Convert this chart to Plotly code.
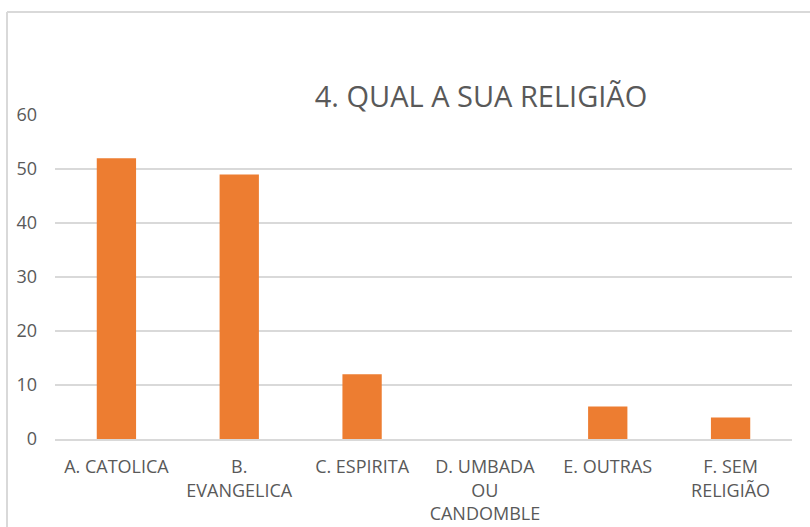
import plotly.graph_objects as go

categories = [
    "A. CATOLICA",
    "B.<br>EVANGELICA",
    "C. ESPIRITA",
    "D. UMBADA<br>OU<br>CANDOMBLE",
    "E. OUTRAS",
    "F. SEM<br>RELIGIÃO",
]
values = [52, 49, 12, 0, 6, 4]
y_ticks = [0, 10, 20, 30, 40, 50, 60]

FONT = "Open Sans"
GRAY = "#595959"
GRID = "#d9d9d9"

fig = go.Figure()
fig.add_trace(
    go.Bar(
        x=categories,
        y=values,
        marker=dict(color="#ed7d31", line=dict(width=0)),
        showlegend=False,
    )
)

fig.update_layout(
    width=810,
    height=527,
    margin=dict(l=55, r=18, t=115, b=88),
    paper_bgcolor="white",
    plot_bgcolor="white",
    bargap=0.68,
    font=dict(family=FONT, color=GRAY),
    title=dict(
        text="4. QUAL A SUA RELIGIÃO",
        x=0.578,
        xref="paper",
        xanchor="center",
        y=1 - 97 / 527,
        yref="container",
        yanchor="middle",
        font=dict(size=29, color=GRAY, family=FONT),
    ),
)

fig.update_xaxes(
    automargin=False,
    showline=True,
    linecolor=GRID,
    linewidth=1.5,
    ticks="",
    tickfont=dict(size=18, color=GRAY),
    ticklabelstandoff=11,
    showgrid=False,
)
fig.update_yaxes(
    automargin=False,
    range=[0, 60],
    tickvals=y_ticks,
    showgrid=True,
    gridcolor=GRID,
    gridwidth=1.5,
    zeroline=False,
    showline=False,
    ticks="",
    tickfont=dict(size=18, color=GRAY),
    ticklabelstandoff=17,
)

# outer chart border (cropped at right and bottom)
fig.add_shape(type="line", xref="paper", yref="paper",
              x0=(7 - 55) / 737, x1=(7 - 55) / 737, y0=-0.5, y1=(439 - 12) / 324,
              line=dict(color=GRID, width=2))
fig.add_shape(type="line", xref="paper", yref="paper",
              x0=(7 - 55) / 737, x1=1.1, y0=(439 - 12) / 324, y1=(439 - 12) / 324,
              line=dict(color=GRID, width=2))

fig.write_html(
    "out.html",
    config={"displayModeBar": False},
    post_script="document.body.style.margin='0px';",
)
